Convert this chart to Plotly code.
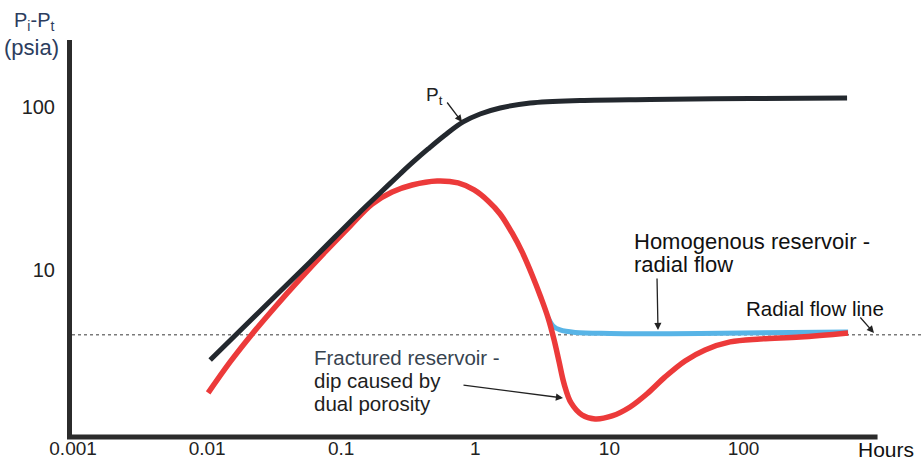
import numpy as np
import plotly.graph_objects as go

# ---------------- data ----------------
TIME_PT = [0.01053, 0.02484, 0.05862, 0.1383, 0.1947, 0.2749, 0.3437, 0.4446, 0.5954,
           0.811, 1.086, 1.531, 2.563, 6.045, 20.12, 112.0, 592.4]
PT = [2.805, 5.605, 11.20, 22.69, 29.68, 38.82, 45.98, 55.26, 67.33,
      80.91, 90.6, 98.6, 105.8, 109.6, 111.2, 112.7, 113.6]

TIME_FRAC = [0.01017, 0.01484, 0.02166, 0.03214, 0.04937, 0.07585, 0.1165, 0.1700,
             0.2396, 0.3379, 0.5189, 0.7444, 0.9796, 1.246, 1.531, 1.881, 2.234,
             2.652, 3.095, 3.491, 3.869, 4.217, 4.595, 5.182, 6.257, 7.823, 10.47,
             14.27, 19.44, 26.03, 36.69, 51.71, 79.45, 133.0, 264.3, 603.0]
P_FRAC = [1.76, 2.727, 4.05, 5.93, 8.81, 12.90, 18.62, 25.40,
          30.10, 33.22, 35.16, 34.18, 30.96, 26.50, 22.06, 16.87, 12.90,
          9.32, 6.73, 5.08, 3.72, 2.727, 2.0, 1.528, 1.289, 1.219, 1.271,
          1.443, 1.76, 2.206, 2.765, 3.23, 3.617, 3.773, 3.882, 4.11]

TIME_HOMO = [3.491, 3.803, 4.290, 5.549, 10.12, 47.46, 603.0]
P_HOMO = [5.08, 4.533, 4.283, 4.135, 4.077, 4.077, 4.164]

RADIAL_LEVEL = 4.0

X_TICKS = [0.001, 0.01, 0.1, 1, 10, 100]
X_TICK_TEXT = ["0.001", "0.01", "0.1", "1", "10", "100"]
Y_TICKS = [10, 100]
Y_TICK_TEXT = ["10", "100"]

X_RANGE_LOG = [-3.008, 3.339]
Y_RANGE_LOG = [-0.025, 2.411]
X_AXIS_END = 1000  # hours, where the drawn x-axis line stops

# ---------------- layout geometry ----------------
W, H = 923, 461
ML, MR, MT, MB = 72, 0, 40, 24
PW, PH = W - ML - MR, H - MT - MB

FONT = "Liberation Sans, Arial, sans-serif"


def px(xp):
    return (xp - ML) / PW


def py(yp):
    return (H - MB - yp) / PH


fig = go.Figure()

# radial flow (dotted) line across the whole plot
fig.add_trace(go.Scatter(
    x=[10 ** X_RANGE_LOG[0], 10 ** X_RANGE_LOG[1]], y=[RADIAL_LEVEL, RADIAL_LEVEL],
    mode="lines", line=dict(color="#7a7a7a", width=1.6, dash="dot"),
    hoverinfo="skip", showlegend=False))

fig.add_trace(go.Scatter(
    x=TIME_HOMO, y=P_HOMO, mode="lines",
    line=dict(color="#58b4e6", width=5, shape="spline", smoothing=1.0),
    showlegend=False))

fig.add_trace(go.Scatter(
    x=TIME_FRAC, y=P_FRAC, mode="lines",
    line=dict(color="#ec3a3a", width=5.5, shape="spline", smoothing=1.0),
    showlegend=False))

fig.add_trace(go.Scatter(
    x=TIME_PT, y=PT, mode="lines",
    line=dict(color="#23282e", width=5, shape="spline", smoothing=1.0),
    showlegend=False))

fig.update_xaxes(type="log", range=X_RANGE_LOG, tickvals=X_TICKS, ticktext=X_TICK_TEXT,
                 showgrid=False, zeroline=False, showline=False, ticks="",
                 automargin=False,
                 tickfont=dict(family=FONT, size=19, color="#222222"),
                 ticklabelstandoff=-2)
fig.update_yaxes(type="log", range=Y_RANGE_LOG, tickvals=Y_TICKS, ticktext=Y_TICK_TEXT,
                 showgrid=False, zeroline=False, showline=True, linewidth=5,
                 linecolor="#2b2b2b", ticks="", automargin=False,
                 tickfont=dict(family=FONT, size=20, color="#222222"),
                 ticklabelstandoff=8)

# x-axis line that stops at X_AXIS_END
x_end = (np.log10(X_AXIS_END) - X_RANGE_LOG[0]) / (X_RANGE_LOG[1] - X_RANGE_LOG[0])
fig.add_shape(type="line", xref="paper", yref="paper", x0=-5 / PW, x1=x_end, y0=0, y1=0,
              line=dict(color="#2b2b2b", width=5))

annotations = []


def text(t, xp, yp, color="#111111", size=21, xanchor="left"):
    annotations.append(dict(text=t, x=px(xp), y=py(yp), xref="paper", yref="paper",
                            xanchor=xanchor, yanchor="middle", showarrow=False,
                            font=dict(family=FONT, size=size, color=color)))


def arrow(tail, tip):
    annotations.append(dict(text="", x=px(tip[0]), y=py(tip[1]), xref="paper", yref="paper",
                            ax=tail[0] - tip[0], ay=tail[1] - tip[1],
                            showarrow=True, arrowhead=2, arrowsize=1.1, arrowwidth=1.3,
                            arrowcolor="#222222", standoff=0))


text("P<sub>i</sub>-P<sub>t</sub>", 12, 21, color="#2c3d5e", size=20)
text("(psia)", 2, 47, color="#2c3d5e", size=22)
text("P<sub>t</sub>", 424, 96, color="#222222", size=19)
text("Homogenous reservoir -", 632, 242, size=22)
text("radial flow", 632, 264, size=22)
text("Radial flow line", 744, 308, size=20.5)
text("Fractured reservoir -", 312, 357, color="#37434f", size=20.5)
text("dip caused by", 312, 380, color="#1e1e1e", size=20.5)
text("dual porosity", 312, 403, color="#1e1e1e", size=20.5)
text("Hours", 856, 450, size=21)

arrow((446, 101), (462, 122))
arrow((657, 277), (658, 330))
arrow((859, 316), (874, 333))
arrow((462, 385), (563, 398))

fig.update_layout(width=W, height=H, margin=dict(l=ML, r=MR, t=MT, b=MB, autoexpand=False),
                  paper_bgcolor="white", plot_bgcolor="white",
                  annotations=annotations, showlegend=False)

fig.write_html("out.html")
